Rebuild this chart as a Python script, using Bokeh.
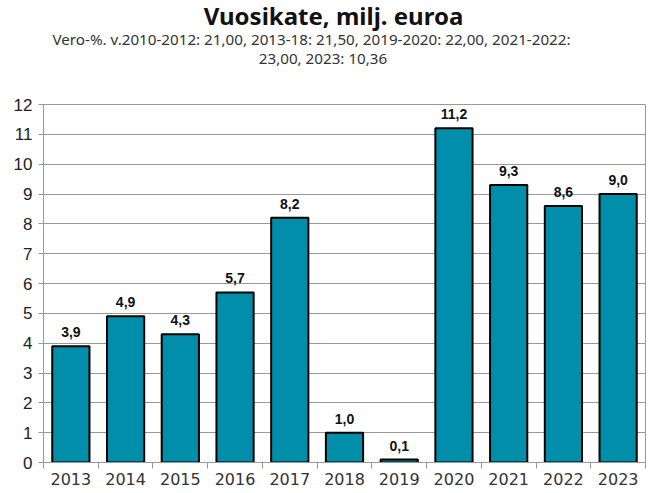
from bokeh.plotting import figure
from bokeh.models import ColumnDataSource, LabelSet, FixedTicker, Range1d, Div
from bokeh.layouts import column
from bokeh.core.properties import value
from bokeh.embed import file_html
from bokeh.resources import INLINE

years = [2013, 2014, 2015, 2016, 2017, 2018, 2019, 2020, 2021, 2022, 2023]
values = [3.9, 4.9, 4.3, 5.7, 8.2, 1.0, 0.1, 11.2, 9.3, 8.6, 9.0]
y_ticks = list(range(0, 13))
title_text = "Vuosikate, milj. euroa"
sub1 = "Vero-%. v.2010-2012: 21,00, 2013-18: 21,50, 2019-2020: 22,00, 2021-2022:"
sub2 = "23,00, 2023: 10,36"

labels = [f"{v:.1f}".replace(".", ",") for v in values]
src = ColumnDataSource(dict(x=years, top=values, lab=labels))

W = 647
head = Div(width=W, height=86, text=(
    '<div style="width:' + str(W) + 'px;text-align:center;margin:0;padding:0;">'
    '<div style="font-family:\'Noto Sans\';font-weight:bold;font-size:24px;'
    'line-height:22px;height:22px;color:#111;padding-left:10px;">' + title_text + '</div>'
    '<div style="font-family:\'Noto Sans\';font-size:15.2px;line-height:18px;height:18px;'
    'color:#333;margin-top:3px;padding-right:34px;">' + sub1 + '</div>'
    '<div style="font-family:\'Noto Sans\';font-size:15.2px;line-height:18px;height:18px;'
    'color:#333;margin-top:1px;padding-right:11px;">' + sub2 + '</div></div>'))

p = figure(width=W, height=391, output_backend="svg", toolbar_location=None,
           x_range=Range1d(years[0] - 0.5, years[-1] + 0.5), y_range=Range1d(0, 12),
           min_border_left=43, min_border_right=2, min_border_top=8, min_border_bottom=0,
           background_fill_color="white", border_fill_color="white")

p.outline_line_color = "#999999"
p.outline_line_width = 1

p.vbar(x="x", top="top", width=0.68, source=src, fill_color="#008eaa",
       line_color="black", line_width=2)

p.add_layout(LabelSet(x="x", y="top", text="lab", source=src, y_offset=9,
                      text_align="center", text_baseline="alphabetic",
                      text_font=value("Liberation Sans"), text_font_style="bold",
                      text_font_size="14px", text_color="#111111"))

# y axis
ya = p.yaxis[0]
ya.ticker = FixedTicker(ticks=y_ticks)
ya.axis_line_color = "#999999"
ya.major_tick_line_color = "#999999"
ya.major_tick_in = 0
ya.major_tick_out = 5
ya.minor_tick_line_color = None
ya.major_label_text_font = "Liberation Sans"
ya.major_label_text_font_size = "17px"
ya.major_label_text_color = "#222222"
ya.major_label_standoff = 6

# x axis: labels at centres, ticks at category boundaries
bounds = [y - 0.5 for y in years] + [years[-1] + 0.5]
xa = p.xaxis[0]
xa.ticker = FixedTicker(ticks=years, minor_ticks=bounds)
xa.major_label_overrides = {y: str(y) for y in years}
xa.axis_line_color = "#999999"
xa.major_tick_line_color = None
xa.minor_tick_line_color = "#999999"
xa.minor_tick_in = 0
xa.minor_tick_out = 6
xa.major_tick_out = 6
xa.major_tick_in = 0
xa.major_label_text_font = "DejaVu Sans"
xa.major_label_text_font_size = "16px"
xa.major_label_text_color = "#333333"
xa.major_label_standoff = 4

p.xgrid.visible = False
p.ygrid.grid_line_color = "#999999"
p.ygrid.grid_line_width = 1

layout = column(head, p, spacing=0)
open("out.html", "w").write(file_html(layout, INLINE))
